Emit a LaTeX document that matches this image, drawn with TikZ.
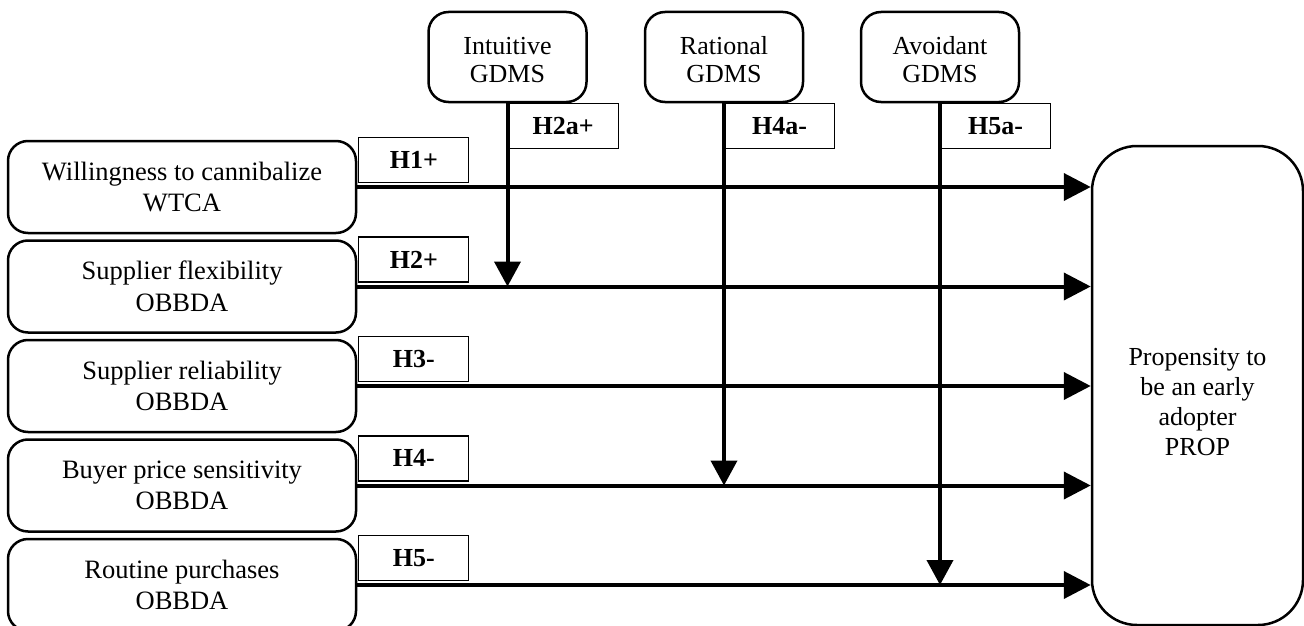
\documentclass[tikz,border=0pt]{standalone}
\usepackage{fontspec}
\setmainfont{Liberation Serif}
\usetikzlibrary{arrows.meta}
\newcommand{\topstrut}{\rule{0pt}{24pt}}
\tikzset{
  varbox/.style={draw, line width=2.5pt, rounded corners=20pt, minimum width=348pt, minimum height=92pt, align=center, inner sep=0pt, font=\fontsize{26.5}{31.5}\selectfont},
  gbox/.style={draw, line width=2.5pt, rounded corners=20pt, minimum width=158pt, minimum height=90pt, align=center, inner sep=0pt, font=\fontsize{26}{28}\selectfont},
  propbox/.style={draw, line width=2.5pt, rounded corners=45pt, minimum width=211pt, minimum height=479pt, inner sep=0pt},
  hlab/.style={draw, line width=1.2pt, minimum width=110pt, minimum height=45pt, inner sep=0pt, font=\fontsize{26}{30}\selectfont\bfseries},
  arr/.style={line width=4pt, -{Triangle[length=27pt,width=27pt]}},
  marr/.style={line width=4pt, -{Triangle[length=25pt,width=26pt]}},
}
\begin{document}
\begin{tikzpicture}[x=1pt, y=-1pt, font=\fontsize{26}{30}\selectfont]
\useasboundingbox (0,0) rectangle (1304,626);
% left variables
\node[varbox] (w) at (182,187) {Willingness to cannibalize\\WTCA};
\node[varbox] (sf) at (182,286.5) {Supplier flexibility\\OBBDA};
\node[varbox] (sr) at (182,386) {Supplier reliability\\OBBDA};
\node[varbox] (bp) at (182,485.5) {Buyer price sensitivity\\OBBDA};
\node[varbox] (rp) at (182,585) {Routine purchases\\OBBDA};
% outcome
\node[propbox, label={[yshift=-17pt, align=center]center:Propensity to\\be an early\\adopter\\PROP}] (prop) at (1197.5,385.5) {};
% moderators
\node[gbox] (ig) at (507.5,57) {\topstrut Intuitive\\GDMS};
\node[gbox] (rg) at (724,57) {\topstrut Rational\\GDMS};
\node[gbox] (ag) at (940,57) {\topstrut Avoidant\\GDMS};
% main arrows
\draw[arr] (w.east) -- (prop.west |- w.east);
\draw[arr] (sf.east) -- (prop.west |- sf.east);
\draw[arr] (sr.east) -- (prop.west |- sr.east);
\draw[arr] (bp.east) -- (prop.west |- bp.east);
\draw[arr] (rp.east) -- (prop.west |- rp.east);
% moderation arrows
\draw[marr] (ig.south) -- (ig.south |- sf.east);
\draw[marr] (rg.south) -- (rg.south |- bp.east);
\draw[marr] (ag.south) -- (ag.south |- rp.east);
% hypothesis labels
\node[hlab, anchor=south west] (h1) at ([xshift=1pt,yshift=4pt]w.east) {H1+};
\node[hlab, anchor=south west] (h2) at ([xshift=1pt,yshift=4pt]sf.east) {H2+};
\node[hlab, anchor=south west] (h3) at ([xshift=1pt,yshift=4pt]sr.east) {H3-};
\node[hlab, anchor=south west] (h4) at ([xshift=1pt,yshift=4pt]bp.east) {H4-};
\node[hlab, anchor=south west] (h5) at ([xshift=1pt,yshift=4pt]rp.east) {H5-};
\node[hlab, anchor=north west] (h2a) at (ig.south) {H2a+};
\node[hlab, anchor=north west] (h4a) at (rg.south) {H4a-};
\node[hlab, anchor=north west] (h5a) at (ag.south) {H5a-};
\end{tikzpicture}
\end{document}
